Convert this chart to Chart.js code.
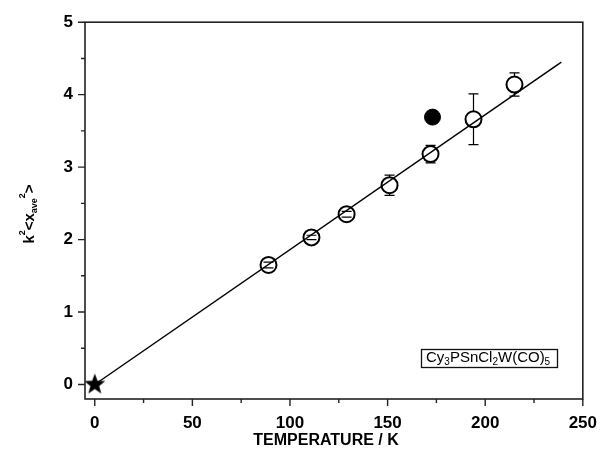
<!DOCTYPE html>
<html>
<head>
<meta charset="utf-8">
<script src="https://cdn.jsdelivr.net/npm/chart.js@4.4.1/dist/chart.umd.min.js"></script>
<style>
  html, body { margin: 0; padding: 0; background: #fff; }
  #wrap { width: 611px; height: 457px; }
</style>
</head>
<body>
<div id="wrap"><canvas id="chart" width="611" height="457"></canvas></div>
<script>
// data
const temps  = [89, 111, 129, 151, 172, 194, 215];
const values = [1.65, 2.03, 2.35, 2.75, 3.18, 3.66, 4.14];
const errors = [0.04, 0.03, 0.04, 0.14, 0.12, 0.35, 0.16];
const filledT = [173];
const filledV = [3.69];
const starT = [0];
const starV = [0];
const fitT = [0, 239];
const fitV = [0, 4.45];
const xTicks = [0, 50, 100, 150, 200, 250];
const yTicks = [0, 1, 2, 3, 4, 5];
const xMinor = [25, 75, 125, 175, 225];
const yMinor = [0.5, 1.5, 2.5, 3.5, 4.5];
const labelParts = [['Cy', 0], ['3', 1], ['PSnCl', 0], ['2', 1], ['W(CO)', 0], ['5', 1]];

const FONT = '"Liberation Sans", Arial, sans-serif';
const R = 8; // open circle radius

function pts(xs, ys) {
  return xs.map((x, i) => ({x: x, y: ys[i]}));
}

// filled star marker
function makeStar(r) {
  const c = document.createElement('canvas');
  c.width = c.height = r * 2 + 2;
  const g = c.getContext('2d');
  g.translate(r + 1, r + 1);
  g.beginPath();
  for (let i = 0; i < 10; i++) {
    const rr = i % 2 === 0 ? r : r * 0.42;
    const a = -Math.PI / 2 + i * Math.PI / 5;
    g.lineTo(rr * Math.cos(a), rr * Math.sin(a));
  }
  g.closePath();
  g.fillStyle = '#000';
  g.fill();
  return c;
}

const extras = {
  id: 'extras',
  afterDatasetsDraw(chart) {
    const ctx = chart.ctx, xs = chart.scales.x, ys = chart.scales.y;
    ctx.save();
    ctx.strokeStyle = '#000';
    ctx.lineWidth = 1.2;
    temps.forEach((t, i) => {
      const px = xs.getPixelForValue(t);
      const py = ys.getPixelForValue(values[i]);
      const top = ys.getPixelForValue(values[i] + errors[i]);
      const bot = ys.getPixelForValue(values[i] - errors[i]);
      ctx.beginPath();
      if (top < py - R) { ctx.moveTo(px, top); ctx.lineTo(px, py - R); }
      if (bot > py + R) { ctx.moveTo(px, py + R); ctx.lineTo(px, bot); }
      ctx.moveTo(px - 5, top); ctx.lineTo(px + 5, top);
      ctx.moveTo(px - 5, bot); ctx.lineTo(px + 5, bot);
      ctx.stroke();
    });
    ctx.restore();
  },
  afterDraw(chart) {
    const ctx = chart.ctx, a = chart.chartArea, xs = chart.scales.x, ys = chart.scales.y;
    ctx.save();
    // frame
    ctx.strokeStyle = '#222';
    ctx.lineWidth = 1.6;
    ctx.strokeRect(a.left, a.top, a.right - a.left, a.bottom - a.top);
    // ticks
    ctx.lineWidth = 1.4;
    ctx.beginPath();
    xTicks.forEach(v => { const p = xs.getPixelForValue(v); ctx.moveTo(p, a.bottom); ctx.lineTo(p, a.bottom + 7); });
    xMinor.forEach(v => { const p = xs.getPixelForValue(v); ctx.moveTo(p, a.bottom); ctx.lineTo(p, a.bottom + 4); });
    yTicks.forEach(v => { const p = ys.getPixelForValue(v); ctx.moveTo(a.left, p); ctx.lineTo(a.left - 7, p); });
    yMinor.forEach(v => { const p = ys.getPixelForValue(v); ctx.moveTo(a.left, p); ctx.lineTo(a.left - 4, p); });
    ctx.stroke();

    // x title
    ctx.fillStyle = '#000';
    ctx.font = 'bold 16px ' + FONT;
    ctx.textAlign = 'center';
    ctx.textBaseline = 'middle';
    ctx.fillText('TEMPERATURE / K', 326, 441);

    // y title  k²<x_ave²>
    const parts = [['k', 0], ['2', -1], ['<x', 0], ['ave', 1], ['2', -1], ['>', 0]];
    const big = 'bold 15px ' + FONT, small = 'bold 9px ' + FONT;
    let w = 0;
    parts.forEach(p => { ctx.font = p[1] ? small : big; w += ctx.measureText(p[0]).width; });
    ctx.translate(30, 214);
    ctx.rotate(-Math.PI / 2);
    ctx.textAlign = 'left';
    let x = -w / 2;
    parts.forEach(p => {
      ctx.font = p[1] ? small : big;
      const dy = p[1] === -1 ? -7 : p[1] === 1 ? 5 : 0;
      ctx.fillText(p[0], x, dy);
      x += ctx.measureText(p[0]).width;
    });
    ctx.setTransform(1, 0, 0, 1, 0, 0);

    // compound label box
    ctx.lineWidth = 1.3;
    ctx.strokeStyle = '#111';
    ctx.strokeRect(421.5, 349.5, 136, 18);
    ctx.textBaseline = 'middle';
    ctx.textAlign = 'left';
    let lx = 426;
    labelParts.forEach(p => {
      ctx.font = p[1] ? '10px ' + FONT : '15px ' + FONT;
      ctx.fillText(p[0], lx, 358 + (p[1] ? 4 : 0));
      lx += ctx.measureText(p[0]).width;
    });
    ctx.restore();
  }
};

new Chart(document.getElementById('chart'), {
  type: 'scatter',
  data: {
    datasets: [
      {
        label: 'fit',
        data: pts(fitT, fitV),
        showLine: true,
        borderColor: '#000',
        borderWidth: 1.5,
        pointRadius: 0,
        order: 0
      },
      {
        label: 'open',
        data: pts(temps, values),
        pointStyle: 'circle',
        pointRadius: R,
        pointBorderWidth: 2,
        pointBorderColor: '#000',
        pointBackgroundColor: '#fff',
        order: 2
      },
      {
        label: 'filled',
        data: pts(filledT, filledV),
        pointRadius: 8,
        pointBorderWidth: 1,
        pointBorderColor: '#000',
        pointBackgroundColor: '#000',
        order: 1
      },
      {
        label: 'star',
        data: pts(starT, starV),
        pointStyle: makeStar(11),
        order: -1
      }
    ]
  },
  options: {
    responsive: false,
    animation: false,
    devicePixelRatio: 1,
    layout: { padding: { top: 22, right: 17, left: 0, bottom: 0 } },
    plugins: { legend: { display: false }, tooltip: { enabled: false } },
    scales: {
      x: {
        type: 'linear',
        min: -5, max: 250,
        grid: { display: false, drawTicks: false },
        border: { display: false },
        afterFit(s) { s.height = 58; },
        afterBuildTicks(s) { s.ticks = xTicks.map(v => ({value: v})); },
        ticks: { padding: 14, color: '#000', font: { family: FONT, size: 17, weight: 'bold' } }
      },
      y: {
        type: 'linear',
        min: -0.2, max: 5,
        grid: { display: false, drawTicks: false },
        border: { display: false },
        afterFit(s) { s.width = 85; },
        afterBuildTicks(s) { s.ticks = yTicks.map(v => ({value: v})); },
        ticks: { padding: 12, color: '#000', font: { family: FONT, size: 17, weight: 'bold' } }
      }
    }
  },
  plugins: [extras]
});
</script>
</body>
</html>
